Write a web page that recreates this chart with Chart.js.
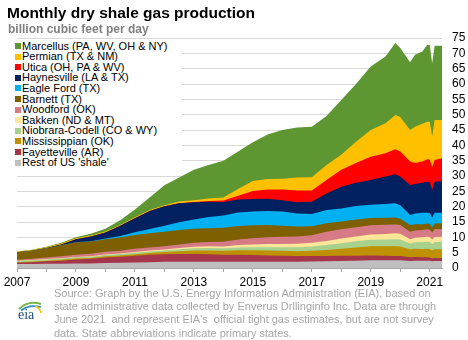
<!DOCTYPE html>
<html><head><meta charset="utf-8">
<script src="https://cdn.jsdelivr.net/npm/chart.js@4.4.0/dist/chart.umd.min.js"></script>
<style>
html,body{margin:0;padding:0;background:#fff;}
#wrap{position:relative;width:468px;height:340px;overflow:hidden;font-family:"Liberation Sans",Arial,sans-serif;}
#c{position:absolute;left:0;top:0;width:468px;height:340px;}
#title{position:absolute;left:7px;top:4px;font-size:15.5px;line-height:18px;font-weight:bold;color:#000;white-space:nowrap;}
#sub{position:absolute;left:8px;top:22px;font-size:12px;line-height:14px;font-weight:bold;color:#808080;white-space:nowrap;}
#legend{position:absolute;left:15px;top:40px;width:167px;height:128px;background:#fff;}
.li{position:absolute;left:7px;font-size:11px;line-height:11px;height:11px;color:#000;white-space:nowrap;}
.sw{position:absolute;left:0;width:6px;height:6px;}
#source{position:absolute;left:54px;top:287px;font-size:11px;line-height:13.2px;color:#a6a6a6;white-space:nowrap;}
#logo{position:absolute;left:15px;top:298px;}
</style></head>
<body>
<div id="wrap">
<canvas id="c" width="468" height="340"></canvas>
<div id="title">Monthly dry shale gas production</div>
<div id="sub">billion cubic feet per day</div>
<div id="legend"></div>
<svg id="logo" width="30" height="24" viewBox="0 0 30 24">
<path d="M4 11 Q13 2 26 6" stroke="#7ab648" stroke-width="2" fill="none"/>
<path d="M6 12.5 Q14 6 26 9" stroke="#2f8fce" stroke-width="1.8" fill="none"/>
<path d="M20 8 Q25 10 26 15" stroke="#f2c200" stroke-width="1.5" fill="none"/>
<text x="3" y="21" font-family="Liberation Serif, serif" font-size="14" fill="#1f4e79">eia</text>
</svg>
<div id="source">Source: Graph by the U.S. Energy Information Administration (EIA), based on<br>state administrative data collected by Enverus Drllinginfo Inc. Data are through<br>June 2021&nbsp; and represent EIA's&nbsp; official tight gas estimates, but are not survey<br>data. State abbreviations indicate primary states.</div>
</div>
<script>
// sample months (YYYY-MM)
const months = ["2007-01","2007-07","2008-01","2008-07","2009-01","2009-07","2010-01","2010-07","2011-01","2011-07","2012-01","2012-07","2013-01","2013-07","2014-01","2014-07","2015-01","2015-07","2016-01","2016-07","2017-01","2017-07","2018-01","2018-07","2019-01","2019-07","2019-11","2020-01","2020-05","2020-07","2020-10","2020-12","2021-01","2021-02","2021-03","2021-06"];
// billion cubic feet per day, by play
const restOfUS     = [1.3,1.3,1.4,1.4,1.5,1.5,1.6,1.7,1.8,1.9,2.0,2.0,2.0,2.0,2.0,2.0,2.0,2.0,2.0,2.0,2.1,2.2,2.3,2.4,2.5,2.5,2.5,2.5,2.3,2.4,2.4,2.4,2.4,2.2,2.3,2.3];
const fayetteville = [0.4,0.6,0.8,1.0,1.3,1.5,1.8,2.0,2.2,2.4,2.5,2.6,2.6,2.5,2.3,2.3,2.2,2.1,2.0,1.9,1.8,1.7,1.7,1.6,1.6,1.5,1.4,1.4,1.2,1.2,1.1,1.1,1.0,1.0,1.0,1.0];
const mississippian= [0.2,0.2,0.2,0.3,0.3,0.3,0.4,0.4,0.5,0.6,0.7,0.9,1.1,1.2,1.3,1.5,1.6,1.6,1.6,1.6,1.7,2.0,2.3,2.7,3.0,3.1,3.2,3.1,2.6,2.7,2.7,2.8,2.8,2.5,2.8,2.8];
const niobrara     = [0.4,0.4,0.4,0.4,0.4,0.4,0.4,0.45,0.5,0.5,0.5,0.6,0.7,0.8,0.8,0.9,1.0,1.1,1.2,1.3,1.4,1.6,1.8,2.0,2.1,2.2,2.3,2.3,1.9,2.1,2.2,2.3,2.3,2.1,2.4,2.5];
const bakken       = [0.1,0.1,0.1,0.1,0.1,0.15,0.2,0.2,0.25,0.3,0.3,0.4,0.5,0.6,0.6,0.8,0.9,1.0,1.0,1.1,1.2,1.3,1.5,1.6,1.7,1.8,1.9,1.9,1.4,1.5,1.6,1.6,1.6,1.5,1.6,1.6];
const woodford     = [0.3,0.4,0.5,0.6,0.7,0.8,0.9,0.9,1.0,1.0,1.1,1.2,1.3,1.4,1.6,1.8,2.0,2.2,2.4,2.4,2.5,3.0,3.0,3.0,3.0,3.0,2.9,2.8,2.4,2.3,2.4,2.4,2.4,2.3,2.5,2.5];
const barnett      = [2.4,2.6,3.0,3.6,4.1,4.0,4.1,4.3,4.5,4.6,4.7,4.7,4.6,4.5,4.5,4.4,4.2,4.0,3.6,3.2,2.9,2.8,2.6,2.5,2.4,2.3,2.3,2.1,2.2,2.1,1.9,1.9,1.9,1.6,1.9,1.9];
const eagleFord    = [0,0,0,0,0,0.05,0.2,0.5,0.9,1.4,2.0,2.5,3.0,3.6,4.0,4.4,4.5,4.6,4.6,4.3,4.0,4.3,4.2,4.4,4.3,4.5,4.6,4.4,3.3,3.5,3.7,3.5,3.5,3.3,3.5,3.4];
const haynesville  = [0,0,0.1,0.3,1.0,1.6,2.0,3.3,4.6,5.9,6.3,6.2,5.6,5.0,4.4,4.2,4.1,4.0,3.7,3.6,4.0,5.4,7.1,7.6,8.1,8.9,9.5,9.3,9.8,9.6,9.8,10.1,10.1,8.9,10.1,10.4];
const utica        = [0,0,0,0,0,0,0,0,0,0,0,0.05,0.1,0.25,0.5,1.3,2.6,3.0,3.5,3.9,3.7,4.4,5.5,6.4,7.6,7.6,8.1,8.2,7.6,6.8,6.9,7.4,7.4,7.6,7.1,7.4];
const permian      = [0.3,0.3,0.3,0.3,0.3,0.3,0.3,0.3,0.3,0.35,0.4,0.5,0.6,0.8,1.0,2.2,3.3,3.4,3.5,4.2,4.3,4.9,4.9,7.0,8.7,9.8,11.2,11.2,10.3,11.9,12.3,12.2,12.3,9.8,13.1,12.5];
const marcellus    = [0,0.05,0.1,0.2,0.3,0.6,0.9,1.5,2.5,4.0,6.5,7.9,9.9,10.9,12.0,12.2,12.6,14.5,15.9,16.3,16.5,16.0,17.9,18.8,20.7,21.8,23.5,22.5,22.1,23.4,23.6,25.1,25.0,24.0,24.2,24.2];
const xTickYears = [2007,2008,2009,2010,2011,2012,2013,2014,2015,2016,2017,2018,2019,2020,2021];
const xLabelYears = [2007,2009,2011,2013,2015,2017,2019,2021];
const yTicks = [0,5,10,15,20,25,30,35,40,45,50,55,60,65,70,75];

// bottom-to-top stacking order
const series = [
  ["Rest of US 'shale'", restOfUS, "#bfbfbf"],
  ["Fayetteville (AR)", fayetteville, "#a5354a"],
  ["Mississippian (OK)", mississippian, "#bf9000"],
  ["Niobrara-Codell (CO & WY)", niobrara, "#a9d18e"],
  ["Bakken (ND & MT)", bakken, "#ffe699"],
  ["Woodford (OK)", woodford, "#d67b86"],
  ["Barnett (TX)", barnett, "#7f6000"],
  ["Eagle Ford (TX)", eagleFord, "#00b0f0"],
  ["Haynesville (LA & TX)", haynesville, "#002060"],
  ["Utica (OH, PA & WV)", utica, "#ff0000"],
  ["Permian (TX & NM)", permian, "#ffc000"],
  ["Marcellus (PA, WV, OH & NY)", marcellus, "#5e9732"]
];
const xs = months.map(m => { const [y, mo] = m.split("-").map(Number); return y + (mo - 1) / 12; });

// HTML legend (top item = top of stack)
const leg = document.getElementById("legend");
series.slice().reverse().forEach((s, i) => {
  const cy = 46 + i * 10.6 - 40;
  const sw = document.createElement("div"); sw.className = "sw"; sw.style.background = s[2]; sw.style.top = (cy - 3) + "px";
  const t = document.createElement("div"); t.className = "li"; t.style.top = (cy - 5.5) + "px"; t.textContent = s[0];
  leg.appendChild(sw); leg.appendChild(t);
});

new Chart(document.getElementById("c"), {
  type: "line",
  data: {
    datasets: series.map(s => ({
      label: s[0],
      data: xs.map((x, j) => ({ x: x, y: s[1][j] })),
      backgroundColor: s[2], borderColor: s[2], borderWidth: 0,
      pointRadius: 0, fill: "origin", tension: 0
    }))
  },
  options: {
    responsive: false, animation: false, devicePixelRatio: 1,
    layout: { padding: { left: 17, top: 38, right: 0, bottom: 0 } },
    plugins: { legend: { display: false }, tooltip: { enabled: false }, filler: { drawTime: "beforeDatasetsDraw" } },
    scales: {
      x: {
        type: "linear", min: 2007, max: xs[xs.length - 1],
        afterBuildTicks: s => { s.ticks = xTickYears.map(v => ({ value: v })); },
        afterFit: s => { s.height = 72; },
        grid: { drawOnChartArea: false, drawTicks: true, tickLength: 4, color: "#a6a6a6" },
        border: { display: true, color: "#a6a6a6" },
        ticks: { autoSkip: false, maxRotation: 0, padding: 3, color: "#000",
          font: { family: "Liberation Sans", size: 12 },
          callback: v => xLabelYears.includes(v) ? String(v) : "" }
      },
      y: {
        position: "right", stacked: true, min: 0, max: 75,
        afterBuildTicks: s => { s.ticks = yTicks.map(v => ({ value: v })); },
        afterFit: s => { s.width = 26; },
        grid: { color: "#d9d9d9", drawTicks: false },
        border: { display: false },
        ticks: { autoSkip: false, padding: 10, color: "#000", font: { family: "Liberation Sans", size: 12 },
          callback: v => String(v) }
      }
    }
  }
});
</script>
</body></html>
